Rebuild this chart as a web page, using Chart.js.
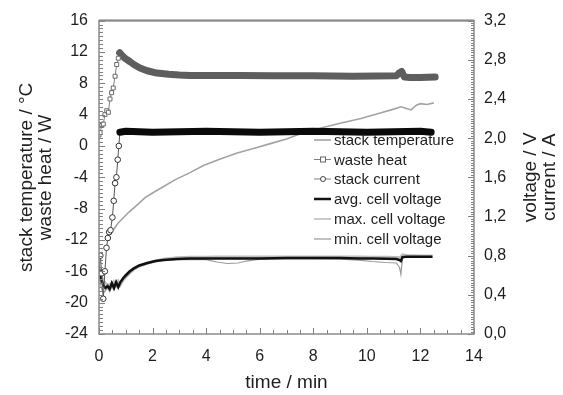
<!DOCTYPE html>
<html>
<head>
<meta charset="utf-8">
<script src="https://cdn.jsdelivr.net/npm/chart.js@4/dist/chart.umd.min.js"></script>
<style>
  html, body { margin: 0; padding: 0; background: #fff; }
  #wrap { width: 563px; height: 395px; position: relative; }
</style>
</head>
<body>
<div id="wrap"><canvas id="chart"></canvas></div>
<script>
const FONT = "'Liberation Sans', Arial, sans-serif";

// stack temperature / °C (left axis)
const tempTime  = [0.54, 0.7, 0.9, 1.1, 1.3, 1.5, 1.72, 2.0, 2.35, 2.85, 3.4, 3.9, 4.5, 5.16, 5.8, 6.4, 7.0, 7.4, 7.8, 8.4, 9.0, 9.78, 10.5, 11.0, 11.27, 11.45, 11.65, 11.85, 12.0, 12.25, 12.5];
const tempValue = [-10.7, -9.9, -9.2, -8.5, -7.9, -7.3, -6.6, -6.0, -5.3, -4.3, -3.4, -2.5, -1.7, -0.9, -0.3, 0.3, 0.9, 1.4, 1.8, 2.4, 2.9, 3.5, 4.2, 4.7, 5.0, 4.8, 4.6, 5.2, 5.4, 5.3, 5.5];

// waste heat / W (left axis)
const heatTime  = [0, 0.04, 0.1, 0.16, 0.22, 0.29, 0.35, 0.41, 0.47, 0.53, 0.6, 0.66, 0.72, 0.77, 0.85, 0.95, 1.05, 1.16, 1.3, 1.53, 1.8, 2.16, 2.6, 3.0, 3.4, 4.0, 5.3, 6.5, 8.0, 9.5, 11.1, 11.2, 11.3, 11.4, 11.6, 12.0, 12.55];
const heatValue = [1.4, 1.7, 2.6, 2.8, 4.0, 4.5, 4.3, 6.0, 6.8, 7.4, 8.9, 10.4, 11.2, 11.9, 11.6, 11.25, 11.0, 10.75, 10.4, 9.95, 9.6, 9.3, 9.15, 9.05, 9.0, 9.0, 9.0, 8.95, 8.95, 8.9, 8.95, 9.3, 9.5, 8.8, 8.75, 8.75, 8.8];

// stack current / A (right axis)
const currTime  = [0, 0.05, 0.1, 0.16, 0.22, 0.28, 0.33, 0.38, 0.43, 0.5, 0.55, 0.6, 0.65, 0.7, 0.74, 0.78, 1.0, 2.0, 4.0, 6.0, 8.0, 10.0, 12.0, 12.4];
const currValue = [0.62, 0.8, 0.62, 0.36, 0.64, 0.88, 0.98, 1.04, 1.06, 1.19, 1.36, 1.54, 1.6, 1.78, 1.92, 2.06, 2.07, 2.06, 2.07, 2.06, 2.07, 2.06, 2.07, 2.06];

// cell voltages / V (right axis)
const voltTime = [0, 0.08, 0.16, 0.24, 0.32, 0.4, 0.48, 0.56, 0.64, 0.72, 0.8, 0.9, 1.0, 1.15, 1.3, 1.5, 1.8, 2.1, 2.4, 2.9, 3.4, 4.0, 4.4, 4.8, 5.2, 5.5, 6.0, 7.0, 8.0, 9.0, 9.7, 10.2, 10.7, 11.1, 11.22, 11.27, 11.33, 11.5, 12.0, 12.45];
const avgVolt  = [0.66, 0.56, 0.5, 0.47, 0.49, 0.46, 0.52, 0.47, 0.53, 0.48, 0.53, 0.57, 0.6, 0.64, 0.67, 0.7, 0.725, 0.745, 0.755, 0.765, 0.77, 0.772, 0.772, 0.772, 0.772, 0.772, 0.772, 0.775, 0.775, 0.775, 0.772, 0.77, 0.768, 0.765, 0.755, 0.745, 0.785, 0.79, 0.79, 0.79];
const maxVolt  = [0.7, 0.6, 0.55, 0.52, 0.5, 0.51, 0.48, 0.53, 0.49, 0.54, 0.5, 0.55, 0.58, 0.62, 0.66, 0.69, 0.72, 0.745, 0.765, 0.78, 0.785, 0.787, 0.788, 0.788, 0.788, 0.788, 0.788, 0.79, 0.79, 0.79, 0.788, 0.786, 0.785, 0.783, 0.78, 0.79, 0.81, 0.805, 0.8, 0.8];
const minVolt  = [0.62, 0.48, 0.42, 0.44, 0.47, 0.43, 0.49, 0.45, 0.5, 0.46, 0.51, 0.55, 0.58, 0.625, 0.66, 0.69, 0.715, 0.735, 0.75, 0.76, 0.762, 0.76, 0.735, 0.72, 0.725, 0.745, 0.765, 0.768, 0.768, 0.765, 0.755, 0.74, 0.73, 0.725, 0.68, 0.61, 0.775, 0.785, 0.785, 0.785];

const legendLabels = ['stack temperature', 'waste heat', 'stack current', 'avg. cell voltage', 'max. cell voltage', 'min. cell voltage'];

const toPoints = (xs, ys) => xs.map((x, i) => ({ x: x, y: ys[i] }));
const RISE_END = 0.76;

// inward ticks, frame, axis titles and the inside legend
const decor = {
  id: 'decor',
  afterDraw(chart) {
    const { ctx, chartArea: a, scales } = chart;
    const sx = scales.x, sy = scales.y, sy2 = scales.y2;
    ctx.save();

    ctx.strokeStyle = '#808080';
    ctx.lineWidth = 1;
    ctx.beginPath();
    for (let i = 0; i <= 28; i++) {
      const px = Math.round(sx.getPixelForValue(i * 0.5)) + 0.5;
      const len = i % 4 === 0 ? 6 : 4;
      ctx.moveTo(px, a.bottom); ctx.lineTo(px, a.bottom - len);
    }
    for (let i = 0; i <= 80; i++) {
      const py = Math.round(sy.getPixelForValue(-24 + i * 0.5)) + 0.5;
      const len = i % 8 === 0 ? 6 : 4;
      ctx.moveTo(a.left, py); ctx.lineTo(a.left + len, py);
    }
    for (let i = 0; i <= 128; i++) {
      const py = Math.round(sy2.getPixelForValue(i * 0.025)) + 0.5;
      const len = i % 16 === 0 ? 6 : 3;
      ctx.moveTo(a.right, py); ctx.lineTo(a.right - len, py);
    }
    ctx.stroke();

    ctx.strokeStyle = '#8a8a8a';
    ctx.lineWidth = 1.5;
    ctx.strokeRect(a.left, a.top, a.right - a.left, a.bottom - a.top);
    ctx.lineWidth = 2;
    ctx.beginPath();
    ctx.moveTo(a.left, a.top); ctx.lineTo(a.right, a.top);
    ctx.stroke();

    // axis titles
    ctx.fillStyle = '#1e1e1e';
    ctx.font = '19px ' + FONT;
    ctx.textAlign = 'center';
    ctx.textBaseline = 'middle';
    const midY = (a.top + a.bottom) / 2;
    [[27, 'stack temperature / °C'], [46, 'waste heat / W'], [531, 'voltage / V'], [550, 'current / A']].forEach(([x, t]) => {
      ctx.save();
      ctx.translate(x, midY);
      ctx.rotate(-Math.PI / 2);
      ctx.fillText(t, 0, 0);
      ctx.restore();
    });
    ctx.fillText('time / min', (a.left + a.right) / 2, 383);

    // legend
    const rows = [140, 159.5, 179, 199, 219, 239];
    const sample = [
      { color: '#a3a3a3', width: 1.6 },
      { color: '#808080', width: 1, marker: 'rect' },
      { color: '#808080', width: 1, marker: 'circle' },
      { color: '#111', width: 2.5 },
      { color: '#bdbdbd', width: 1.6 },
      { color: '#9a9a9a', width: 1.2 }
    ];
    ctx.font = '15px ' + FONT;
    ctx.textAlign = 'left';
    legendLabels.forEach((label, i) => {
      const y = rows[i], s = sample[i];
      ctx.strokeStyle = s.color;
      ctx.lineWidth = s.width;
      ctx.beginPath();
      ctx.moveTo(314, y); ctx.lineTo(331, y);
      ctx.stroke();
      if (s.marker === 'rect') {
        ctx.fillStyle = '#fff';
        ctx.fillRect(320.5, y - 2.5, 5, 5);
        ctx.strokeStyle = '#666';
        ctx.lineWidth = 1;
        ctx.strokeRect(320.5, y - 2.5, 5, 5);
      } else if (s.marker === 'circle') {
        ctx.fillStyle = '#fff';
        ctx.beginPath();
        ctx.arc(323, y, 2.5, 0, Math.PI * 2);
        ctx.fill();
        ctx.strokeStyle = '#444';
        ctx.lineWidth = 1;
        ctx.stroke();
      }
      ctx.fillStyle = '#1e1e1e';
      ctx.fillText(label, 334, y + 1);
    });
    ctx.restore();
  }
};

const tickFont = { family: FONT, size: 16 };

new Chart(document.getElementById('chart'), {
  type: 'line',
  data: {
    datasets: [
      {
        label: legendLabels[0],
        data: toPoints(tempTime, tempValue),
        yAxisID: 'y',
        borderColor: '#a3a3a3',
        borderWidth: 1.6,
        pointRadius: 0,
        order: 3
      },
      {
        label: legendLabels[1],
        data: toPoints(heatTime, heatValue),
        yAxisID: 'y',
        borderColor: '#5e5e5e',
        borderCapStyle: 'round',
        borderJoinStyle: 'round',
        pointStyle: 'rect',
        pointRadius: c => (c.raw && c.raw.x < RISE_END) ? 2.8 : 0,
        pointBackgroundColor: '#fff',
        pointBorderColor: '#6a6a6a',
        pointBorderWidth: 1,
        segment: {
          borderWidth: c => c.p0.parsed.x >= RISE_END ? 7 : 1,
          borderColor: c => c.p0.parsed.x >= RISE_END ? '#5e5e5e' : '#808080'
        },
        order: 2
      },
      {
        label: legendLabels[2],
        data: toPoints(currTime, currValue),
        yAxisID: 'y2',
        borderColor: '#000',
        borderCapStyle: 'round',
        borderJoinStyle: 'round',
        pointStyle: 'circle',
        pointRadius: c => (c.raw && c.raw.x < 0.78) ? 2.8 : 0,
        pointBackgroundColor: '#fff',
        pointBorderColor: '#333',
        pointBorderWidth: 1,
        segment: {
          borderWidth: c => c.p0.parsed.x >= 0.78 ? 7 : 1,
          borderColor: c => c.p0.parsed.x >= 0.78 ? '#0a0a0a' : '#555'
        },
        order: 1
      },
      {
        label: legendLabels[3],
        data: toPoints(voltTime, avgVolt),
        yAxisID: 'y2',
        borderColor: '#111',
        borderWidth: 2.5,
        pointRadius: 0,
        order: 4
      },
      {
        label: legendLabels[4],
        data: toPoints(voltTime, maxVolt),
        yAxisID: 'y2',
        borderColor: '#bdbdbd',
        borderWidth: 2.5,
        pointRadius: 0,
        order: 6
      },
      {
        label: legendLabels[5],
        data: toPoints(voltTime, minVolt),
        yAxisID: 'y2',
        borderColor: '#9a9a9a',
        borderWidth: 1.2,
        pointRadius: 0,
        order: 5
      }
    ]
  },
  options: {
    responsive: true,
    maintainAspectRatio: false,
    animation: false,
    layout: { padding: { top: 15, left: 0, right: 0, bottom: 0 } },
    plugins: {
      legend: { display: false },
      tooltip: { enabled: false }
    },
    scales: {
      x: {
        type: 'linear',
        min: 0,
        max: 14,
        ticks: { stepSize: 2, font: tickFont, color: '#1e1e1e', padding: 13, maxRotation: 0 },
        grid: { display: false, drawTicks: false },
        border: { display: false },
        afterFit: s => { s.height = 61; }
      },
      y: {
        position: 'left',
        min: -24,
        max: 16,
        ticks: { stepSize: 4, font: tickFont, color: '#1e1e1e', padding: 11 },
        grid: { display: false, drawTicks: false },
        border: { display: false },
        afterFit: s => { s.width = 99; }
      },
      y2: {
        position: 'right',
        min: 0,
        max: 3.2,
        ticks: {
          stepSize: 0.4,
          font: tickFont,
          color: '#1e1e1e',
          padding: 10,
          callback: v => v.toFixed(1).replace('.', ',')
        },
        grid: { display: false, drawTicks: false },
        border: { display: false },
        afterFit: s => { s.width = 89; }
      }
    }
  },
  plugins: [decor]
});
</script>
</body>
</html>
